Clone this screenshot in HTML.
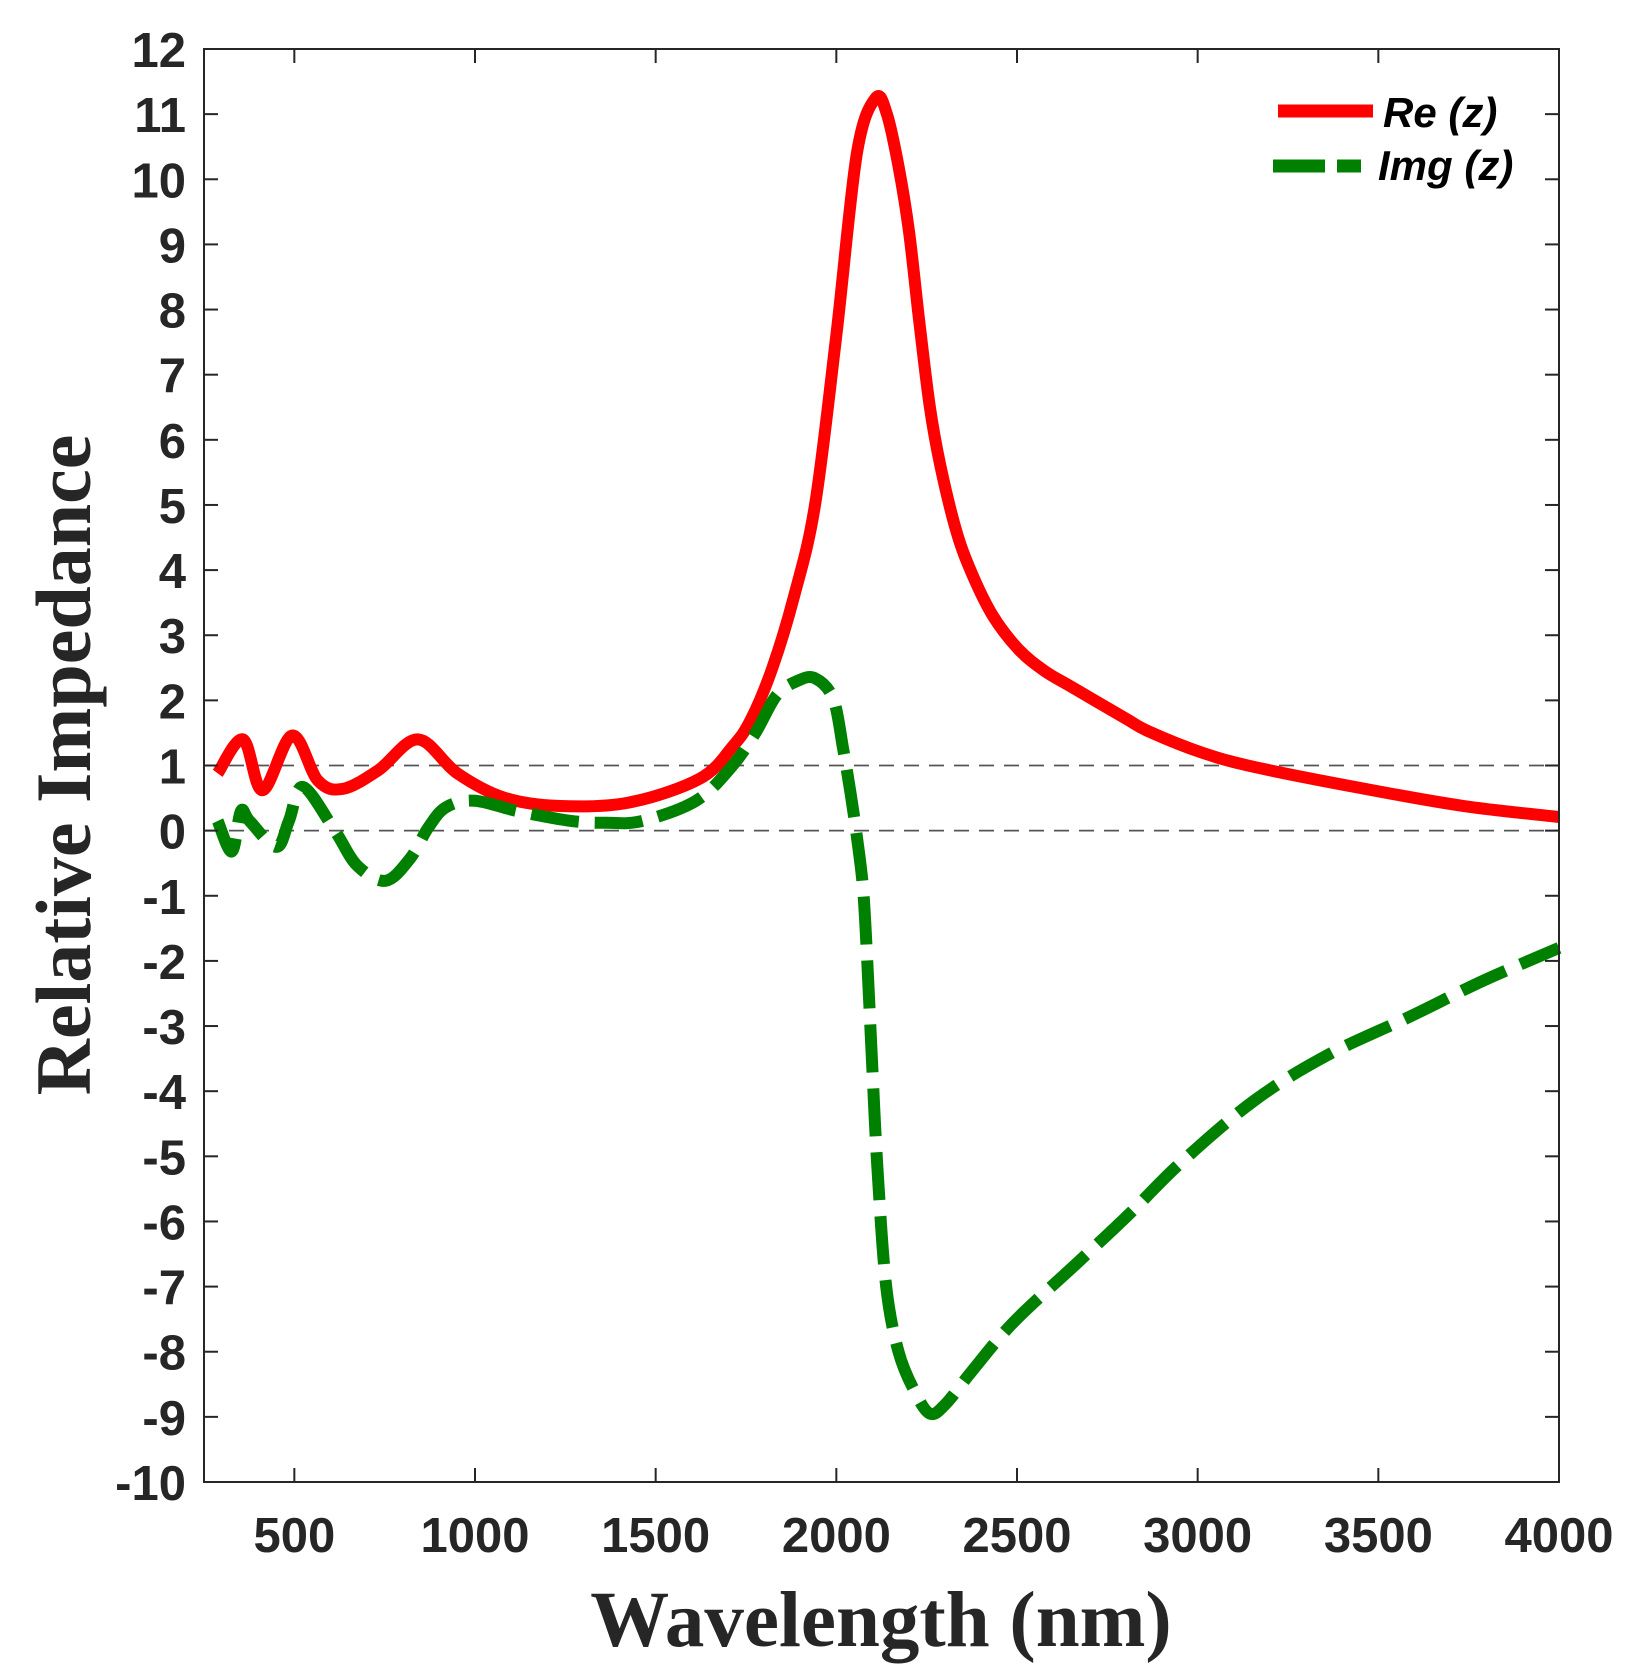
<!DOCTYPE html>
<html><head><meta charset="utf-8"><style>
html,body{margin:0;padding:0;background:#fff;}
svg{display:block;}
</style></head><body>
<svg id="chart" xmlns="http://www.w3.org/2000/svg" width="1637" height="1680" viewBox="0 0 1637 1680">
<rect x="0" y="0" width="1637" height="1680" fill="#fff"/>
<g id="grid"></g>
<g id="series"></g>
<g id="axes"></g>
<text x="0" y="0" transform="translate(90,765) rotate(-90)" text-anchor="middle" font-family="Liberation Serif, serif" font-weight="bold" font-size="78" fill="#262626">Relative Impedance</text>
<text x="881" y="1646" text-anchor="middle" font-family="Liberation Serif, serif" font-weight="bold" font-size="79" fill="#262626">Wavelength (nm)</text>
<g>
<line x1="1278" y1="111" x2="1373" y2="111" stroke="#ff0000" stroke-width="13"/>
<text x="1383" y="127" font-family="Liberation Sans, sans-serif" font-weight="bold" font-style="italic" font-size="42" fill="#000">Re (z)</text>
<line x1="1273" y1="166" x2="1361" y2="166" stroke="#008000" stroke-width="13" stroke-dasharray="52 12"/>
<text x="1378" y="180" font-family="Liberation Sans, sans-serif" font-weight="bold" font-style="italic" font-size="42" fill="#000">Img (z)</text>
</g>
</svg>
<script>
const reX = [288,358,412,494,565,634,733,842,951,1079,1227,1425,1623,1714,1763,1823,1883,1941,2000,2057,2109,2140,2172,2201,2230,2259,2288,2332,2375,2433,2505,2577,2653,2801,2866,3011,3155,3445,3734,4000];
const reY = [0.88,1.40,0.62,1.46,0.77,0.64,0.93,1.40,0.88,0.51,0.38,0.43,0.80,1.30,1.7,2.5,3.6,5.0,7.6,10.4,11.25,11.0,10.2,9.2,7.8,6.5,5.6,4.6,3.95,3.3,2.78,2.45,2.2,1.72,1.52,1.2,0.98,0.66,0.38,0.21];
const imX = [288,327,352,376,450,485,524,613,673,752,820,870,920,999,1117,1266,1364,1463,1612,1710,1777,1835,1893,1941,1991,2019,2038,2056,2074,2086,2100,2115,2138,2172,2216,2259,2303,2375,2490,2664,2808,2953,3155,3358,3589,3792,4000];
const imY = [0.15,-0.32,0.30,0.15,-0.25,0.15,0.67,-0.01,-0.53,-0.77,-0.43,0.04,0.36,0.46,0.30,0.15,0.12,0.15,0.46,0.98,1.51,2.08,2.3,2.34,2.03,1.25,0.62,-0.06,-0.9,-2.05,-3.7,-5.3,-7.0,-8.0,-8.6,-8.95,-8.8,-8.3,-7.55,-6.65,-5.9,-5.1,-4.15,-3.45,-2.85,-2.3,-1.8];
const xTicks = [500,1000,1500,2000,2500,3000,3500,4000];
const yTicks = [-10,-9,-8,-7,-6,-5,-4,-3,-2,-1,0,1,2,3,4,5,6,7,8,9,10,11,12];
const refLines = [0,1];

const L=204,R=1559,T=49,B=1482,XMIN=250,XMAX=4000,YMIN=-10,YMAX=12;
const sx=v=>L+(v-XMIN)/(XMAX-XMIN)*(R-L);
const sy=v=>B-(v-YMIN)/(YMAX-YMIN)*(B-T);
const NS='http://www.w3.org/2000/svg';
function mk(tag,attrs,parent){const e=document.createElementNS(NS,tag);for(const k in attrs)e.setAttribute(k,attrs[k]);parent.appendChild(e);return e;}
function pathFrom(xs,ys){
  const p=xs.map((x,i)=>[sx(x),sy(ys[i])]);
  let d='M'+p[0][0].toFixed(1)+','+p[0][1].toFixed(1);
  for(let i=0;i<p.length-1;i++){
    const p0=p[i-1]||p[i],p1=p[i],p2=p[i+1],p3=p[i+2]||p2;
    const c1=[p1[0]+(p2[0]-p0[0])/6,p1[1]+(p2[1]-p0[1])/6];
    const c2=[p2[0]-(p3[0]-p1[0])/6,p2[1]-(p3[1]-p1[1])/6];
    d+=' C'+c1[0].toFixed(1)+','+c1[1].toFixed(1)+' '+c2[0].toFixed(1)+','+c2[1].toFixed(1)+' '+p2[0].toFixed(1)+','+p2[1].toFixed(1);
  }
  return d;
}
const grid=document.getElementById('grid');
refLines.forEach(v=>{
  const l=mk('line',{x1:L,x2:R,y1:sy(v),y2:sy(v),stroke:'#555','stroke-width':1.8,'stroke-dasharray':'15 10'},grid);
  
  
});
const series=document.getElementById('series');
const re=mk('path',{d:pathFrom(reX,reY),fill:'none',stroke:'#ff0000','stroke-width':12,'stroke-linejoin':'round','stroke-linecap':'butt'},series);


const im=mk('path',{d:pathFrom(imX,imY),fill:'none',stroke:'#008000','stroke-width':12,'stroke-dasharray':'48 16','stroke-linejoin':'round'},series);



const axes=document.getElementById('axes');
const box=mk('rect',{x:L,y:T,width:R-L,height:B-T,fill:'none',stroke:'#262626','stroke-width':2},axes);


xTicks.forEach(v=>{
  const x=sx(v);
  const t1=mk('line',{x1:x,x2:x,y1:B,y2:B-14,stroke:'#262626','stroke-width':2},axes);
  
  
  const t2=mk('line',{x1:x,x2:x,y1:T,y2:T+14,stroke:'#262626','stroke-width':2},axes);
  
  
  const lb=mk('text',{x:x,y:1552,'text-anchor':'middle','font-family':'Liberation Sans, sans-serif','font-weight':'bold','font-size':49,fill:'#262626'},axes);
  lb.textContent=String(v);
  
  
});
yTicks.forEach(v=>{
  const y=sy(v);
  const t1=mk('line',{x1:L,x2:L+14,y1:y,y2:y,stroke:'#262626','stroke-width':2},axes);
  
  
  const t2=mk('line',{x1:R,x2:R-14,y1:y,y2:y,stroke:'#262626','stroke-width':2},axes);
  
  
  const lb=mk('text',{x:186,y:y+18,'text-anchor':'end','font-family':'Liberation Sans, sans-serif','font-weight':'bold','font-size':49,fill:'#262626'},axes);
  lb.textContent=String(v);
  
  
});
</script>
</body></html>
